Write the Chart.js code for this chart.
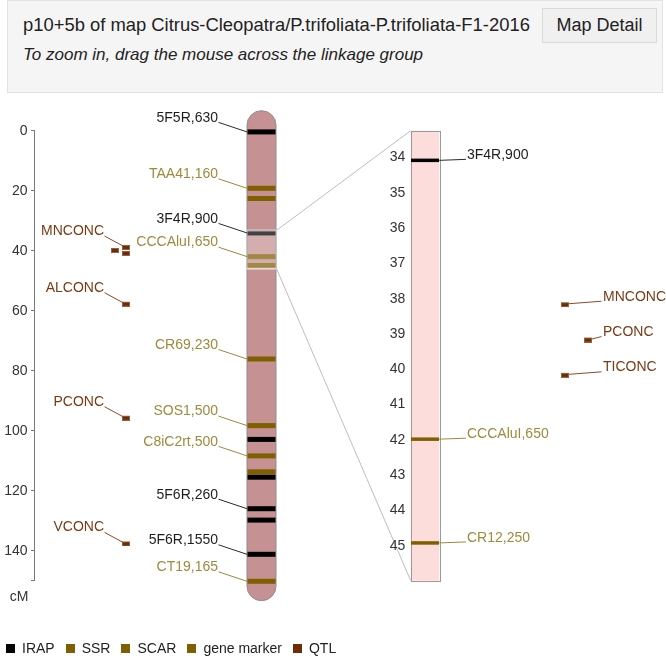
<!DOCTYPE html>
<html>
<head>
<meta charset="utf-8">
<script src="https://cdn.jsdelivr.net/npm/chart.js@4.4.1/dist/chart.umd.min.js"></script>
<style>
  html, body { margin: 0; padding: 0; background: #fff; }
  body { width: 666px; height: 660px; position: relative; overflow: hidden;
         font-family: "Liberation Sans", Arial, sans-serif; color: #222; }
  #head { position: absolute; left: 7px; top: 0; width: 656px; height: 93px;
          background: #f5f5f5; border: 1px solid #e3e3e3; box-sizing: border-box; }
  #title { position: absolute; left: 15px; top: 13px; font-size: 18.4px; white-space: nowrap; }
  #btn { position: absolute; left: 534px; top: 7px; width: 115px; height: 35px;
         background: #f0f0f0; border: 1px solid #dadada; box-sizing: border-box;
         font-size: 18px; text-align: center; line-height: 33px; }
  #hint { position: absolute; left: 15px; top: 44px; font-size: 17px; font-style: italic; white-space: nowrap; }
  #map { position: absolute; left: 0; top: 0; }
  #legend { position: absolute; left: 6px; top: 639px; display: flex; font-size: 14px; line-height: 18px; }
  .li { display: flex; align-items: center; margin-right: 11px; white-space: nowrap; }
  .sw { width: 9px; height: 9px; margin-right: 7px; }
</style>
</head>
<body>
<div id="head">
  <div id="title">p10+5b of map Citrus-Cleopatra/P.trifoliata-P.trifoliata-F1-2016</div>
  <div id="btn">Map Detail</div>
  <div id="hint">To zoom in, drag the mouse across the linkage group</div>
</div>
<canvas id="map" width="666" height="660"></canvas>
<div id="legend"></div>

<script>
// ---- linkage group p10+5b ----
const chromosomeLength = 150;                       // cM
const axisTicks = [0, 20, 40, 60, 80, 100, 120, 140, 150];
const zoomWindow = [33.24, 45.99];                  // selected interval, cM
const zoomTicks = [34, 35, 36, 37, 38, 39, 40, 41, 42, 43, 44, 45];

const markerNames     = ['5F5R,630', 'TAA41,160', null, '3F4R,900', 'CCCAluI,650', 'CR12,250',
                         'CR69,230', 'SOS1,500', null, 'C8iC2rt,500', null, null,
                         '5F6R,260', null, '5F6R,1550', 'CT19,165'];
const markerPositions = [0.4, 19.2, 22.6, 34.08, 41.98, 44.92,
                         76.1, 98.3, 102.9, 108.4, 113.7, 115.5,
                         126.0, 129.8, 141.2, 150.2];
const markerTypes     = ['IRAP', 'SSR', 'SSR', 'IRAP', 'SCAR', 'SSR',
                         'SSR', 'gene marker', 'IRAP', 'gene marker', 'SSR', 'IRAP',
                         'IRAP', 'IRAP', 'IRAP', 'SSR'];

const qtlNames     = ['MNCONC', 'PCONC', 'TICONC', 'ALCONC', 'PCONC', 'VCONC'];
const qtlPositions = [38.1, 39.1, 40.1, 57.0, 95.0, 136.9];

const legendTypes = ['IRAP', 'SSR', 'SCAR', 'gene marker', 'QTL'];

// ---- styling ----
const typeColors  = { 'IRAP': '#000000', 'SSR': '#7f6000', 'SCAR': '#7f6000', 'gene marker': '#7f6000', 'QTL': '#6e2d05' };
const labelColors = { 'IRAP': '#1e1e1e', 'SSR': '#9e8a3e', 'SCAR': '#9e8a3e', 'gene marker': '#9e8a3e', 'QTL': '#7a3a14' };
const leaderColors = { 'IRAP': '#2a2a2a', 'SSR': '#9c8840', 'SCAR': '#9c8840', 'gene marker': '#9c8840', 'QTL': '#8a4a2c' };
const FONT = '"Liberation Sans", Arial, sans-serif';

const CHROM_X = 261.5, CHROM_HALF = 14.5, CAP_EXT = 5.5;
const ZOOM_X = 425, ZOOM_HALF = 14.3;
const QTL_COL_MAIN = [126, 115];
const QTL_COL_ZOOM = [565, 588];

// legend
const legendEl = document.getElementById('legend');
legendTypes.forEach(t => {
  const item = document.createElement('div');
  item.className = 'li';
  const sw = document.createElement('span');
  sw.className = 'sw';
  sw.style.background = typeColors[t];
  item.appendChild(sw);
  item.appendChild(document.createTextNode(t));
  legendEl.appendChild(item);
});

// QTL columns: a QTL too close to the previous one in a column moves to the next column
const qtlColumn = [];
const lastInColumn = [];
qtlPositions.forEach((p, i) => {
  let c = 0;
  while (lastInColumn[c] !== undefined && p - lastInColumn[c] < 1.5) c++;
  qtlColumn[i] = c;
  lastInColumn[c] = p;
});

// QTL box sprite: box sits in the lower half so its top edge lands on the point
function qtlSprite(w, h) {
  const c = document.createElement('canvas');
  c.width = w; c.height = h * 2;
  const g = c.getContext('2d');
  g.fillStyle = typeColors.QTL;
  g.fillRect(0, h, w, h);
  g.strokeStyle = 'rgba(160,110,80,0.8)';
  g.lineWidth = 1;
  g.strokeRect(0.5, h + 0.5, w - 1, h - 1);
  return c;
}

const inZoom = p => p >= zoomWindow[0] && p <= zoomWindow[1];
const zoomMarkerIdx = markerPositions.map((p, i) => i).filter(i => inZoom(markerPositions[i]));
const zoomQtlIdx = qtlPositions.map((p, i) => i).filter(i => inZoom(qtlPositions[i]));

const datasets = [
  {
    label: 'markers',
    data: markerPositions.map(p => ({ x: CHROM_X, y: p })),
    yAxisID: 'y',
    pointStyle: 'line',
    pointRadius: CHROM_HALF - 0.5,
    pointBorderWidth: 5,
    pointBorderColor: markerTypes.map(t => typeColors[t]),
    clip: false
  },
  {
    label: 'markers (zoom)',
    data: zoomMarkerIdx.map(i => ({ x: ZOOM_X, y: markerPositions[i] })),
    yAxisID: 'yz',
    pointStyle: 'line',
    pointRadius: ZOOM_HALF - 0.3,
    pointBorderWidth: 3.5,
    pointBorderColor: zoomMarkerIdx.map(i => typeColors[markerTypes[i]]),
    clip: false
  },
  {
    label: 'QTL',
    data: qtlPositions.map((p, i) => ({ x: QTL_COL_MAIN[qtlColumn[i]], y: p })),
    yAxisID: 'y',
    pointStyle: qtlSprite(8, 5),
    pointRadius: 4,
    clip: false
  },
  {
    label: 'QTL (zoom)',
    data: zoomQtlIdx.map(i => ({ x: QTL_COL_ZOOM[qtlColumn[i]], y: qtlPositions[i] })),
    yAxisID: 'yz',
    pointStyle: qtlSprite(8, 5),
    pointRadius: 4,
    clip: false
  }
];

const mapPlugin = {
  id: 'linkageMap',
  beforeDatasetsDraw(chart) {
    const { ctx } = chart;
    const { x, y, yz } = chart.scales;
    const cx = x.getPixelForValue(CHROM_X);
    const l = cx - CHROM_HALF, r = cx + CHROM_HALF;
    const t = y.getPixelForValue(0) - CAP_EXT;
    const b = y.getPixelForValue(chromosomeLength) + CAP_EXT;

    ctx.save();
    // chromosome body
    ctx.beginPath();
    ctx.moveTo(l, t);
    ctx.arc(cx, t, CHROM_HALF, Math.PI, 0);
    ctx.lineTo(r, b);
    ctx.arc(cx, b, CHROM_HALF, 0, Math.PI);
    ctx.closePath();
    ctx.fillStyle = '#c59193';
    ctx.fill();
    ctx.lineWidth = 1;
    ctx.strokeStyle = '#8e8e8e';
    ctx.stroke();

    // zoomed interval
    const zx = x.getPixelForValue(ZOOM_X);
    const zl = zx - ZOOM_HALF, zr = zx + ZOOM_HALF;
    const zt = yz.getPixelForValue(zoomWindow[0]);
    const zb = yz.getPixelForValue(zoomWindow[1]);
    ctx.fillStyle = '#fddcdc';
    ctx.fillRect(zl, zt, zr - zl, zb - zt);
    ctx.strokeStyle = '#9a9a9a';
    ctx.strokeRect(Math.round(zl) + 0.5, Math.round(zt) + 0.5, Math.round(zr - zl), Math.round(zb - zt));

    // connectors
    ctx.strokeStyle = '#bdbdbd';
    ctx.beginPath();
    ctx.moveTo(r + 0.5, y.getPixelForValue(zoomWindow[0]));
    ctx.lineTo(zl, zt);
    ctx.moveTo(r + 0.5, y.getPixelForValue(zoomWindow[1]));
    ctx.lineTo(zl, zb);
    ctx.stroke();
    ctx.restore();
  },
  afterDatasetsDraw(chart) {
    const { ctx } = chart;
    const { x, y, yz } = chart.scales;
    const cx = x.getPixelForValue(CHROM_X);
    const l = cx - CHROM_HALF, r = cx + CHROM_HALF;

    ctx.save();
    // selection highlight on the chromosome
    const ht = y.getPixelForValue(zoomWindow[0]);
    const hb = y.getPixelForValue(zoomWindow[1]);
    ctx.fillStyle = 'rgba(255,255,255,0.26)';
    ctx.fillRect(l, ht, r - l, hb - ht);
    ctx.strokeStyle = 'rgba(255,255,255,0.55)';
    ctx.lineWidth = 2;
    ctx.beginPath();
    ctx.moveTo(l, ht); ctx.lineTo(r, ht);
    ctx.moveTo(l, hb); ctx.lineTo(r, hb);
    ctx.stroke();

    ctx.font = '14px ' + FONT;
    ctx.textBaseline = 'middle';
    ctx.lineWidth = 1;

    // marker labels on the chromosome (skipped when crowded)
    let lastPx = -1e9;
    markerPositions.forEach((p, i) => {
      const name = markerNames[i];
      if (!name) return;
      const py = y.getPixelForValue(p);
      if (py - lastPx < 15) return;
      lastPx = py;
      const type = markerTypes[i];
      ctx.strokeStyle = leaderColors[type];
      ctx.beginPath();
      ctx.moveTo(218.5, py - 9.5);
      ctx.lineTo(l, py);
      ctx.stroke();
      ctx.fillStyle = labelColors[type];
      ctx.textAlign = 'right';
      ctx.fillText(name, 218, py - 14);
    });

    // QTL labels on the main map
    lastPx = -1e9;
    qtlPositions.forEach((p, i) => {
      const py = y.getPixelForValue(p);
      if (py - lastPx < 15) return;
      lastPx = py;
      const qx = x.getPixelForValue(QTL_COL_MAIN[qtlColumn[i]]);
      ctx.strokeStyle = leaderColors.QTL;
      ctx.beginPath();
      ctx.moveTo(104.5, py - 9);
      ctx.lineTo(qx - 3, py + 1);
      ctx.stroke();
      ctx.fillStyle = labelColors.QTL;
      ctx.textAlign = 'right';
      ctx.fillText(qtlNames[i], 104, py - 14);
    });

    // zoom panel labels
    const zx = x.getPixelForValue(ZOOM_X);
    const zr = zx + ZOOM_HALF;
    zoomMarkerIdx.forEach(i => {
      const py = yz.getPixelForValue(markerPositions[i]);
      const type = markerTypes[i];
      ctx.strokeStyle = leaderColors[type];
      ctx.beginPath();
      ctx.moveTo(zr, py);
      ctx.lineTo(466, py - 1);
      ctx.stroke();
      ctx.fillStyle = labelColors[type];
      ctx.textAlign = 'left';
      ctx.fillText(markerNames[i], 467, py - 5);
    });
    zoomQtlIdx.forEach(i => {
      const py = yz.getPixelForValue(qtlPositions[i]);
      const qx = x.getPixelForValue(QTL_COL_ZOOM[qtlColumn[i]]);
      ctx.strokeStyle = leaderColors.QTL;
      ctx.beginPath();
      ctx.moveTo(qx + 4, py + 1.5);
      ctx.lineTo(601.5, py - 1);
      ctx.stroke();
      ctx.fillStyle = labelColors.QTL;
      ctx.textAlign = 'left';
      ctx.fillText(qtlNames[i], 603, py - 5.5);
    });

    // zoom axis tick labels
    ctx.fillStyle = '#333';
    ctx.textAlign = 'right';
    zoomTicks.forEach(v => {
      ctx.fillText(String(v), zx - ZOOM_HALF - 5.5, yz.getPixelForValue(v));
    });

    // unit under the main axis
    ctx.textAlign = 'center';
    ctx.fillText('cM', 19, y.getPixelForValue(chromosomeLength) + 16);
    ctx.restore();
  }
};

Chart.defaults.font.family = FONT;

new Chart(document.getElementById('map'), {
  type: 'scatter',
  data: { datasets },
  plugins: [mapPlugin],
  options: {
    responsive: false,
    animation: false,
    events: [],
    layout: { autoPadding: false, padding: { top: 130.7, bottom: 79.3, left: 0, right: 0 } },
    plugins: { legend: { display: false }, tooltip: { enabled: false } },
    scales: {
      x: { type: 'linear', min: 34, max: 666, display: false },
      y: {
        type: 'linear', position: 'left', min: 0, max: chromosomeLength, reverse: true,
        afterFit(s) { s.width = 34; },
        afterBuildTicks(s) { s.ticks = axisTicks.map(v => ({ value: v })); },
        ticks: {
          padding: 3.5, color: '#333', font: { size: 14 },
          callback: v => (v % 20 === 0 ? String(v) : '')
        },
        grid: { drawOnChartArea: false, tickLength: 3, color: '#777' },
        border: { color: '#777' }
      },
      yz: {
        type: 'linear', position: 'right', display: false,
        min: zoomWindow[0], max: zoomWindow[1], reverse: true,
        afterBuildTicks(s) { s.ticks = zoomTicks.map(v => ({ value: v })); }
      }
    }
  }
});
</script>
</body>
</html>
